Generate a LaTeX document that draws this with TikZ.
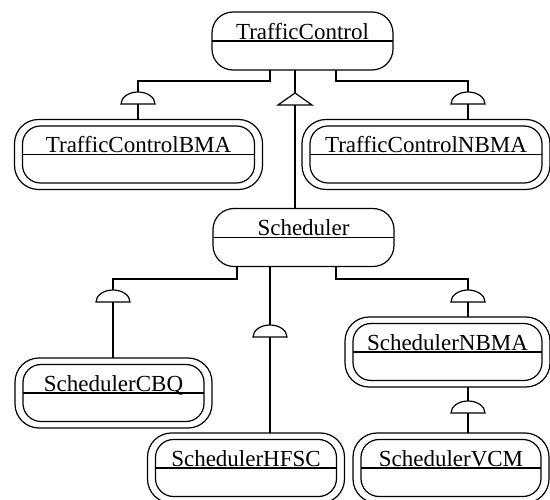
\documentclass[tikz,border=0pt]{standalone}
\usepackage{fontspec}
\setmainfont{Liberation Serif}
\usetikzlibrary{fit}
\newcommand{\mkclass}[5]{%
  \node[sbox, minimum width=#4pt] (#1) at (#2,#3) {};
  \draw (#1.west) -- (#1.east);
  \node[lbl] (#1-t) at ([yshift=1.5pt]#1.center) {#5};
}
\newcommand{\mkdclass}[5]{%
  \node[ibox, minimum width=#4pt] (#1) at (#2,#3) {};
  \node[obox, fit=(#1)] (#1-o) {};
  \draw (#1.west) -- (#1.east);
  \node[lbl] (#1-t) at ([yshift=1.5pt]#1.center) {#5};
}
\newcommand{\mkhalf}[2]{%
  \draw[fill=white] (#1-17,#2) .. controls (#1-17,#2-6.6) and (#1-9.4,#2-12) .. (#1,#2-12)
    .. controls (#1+9.4,#2-12) and (#1+17,#2-6.6) .. (#1+17,#2) -- cycle;
}
\begin{document}
\begin{tikzpicture}[x=1pt, y=-1pt, line width=1.2pt,
  sbox/.style={draw, rounded corners=21pt, minimum height=58pt, inner sep=0pt, outer sep=0pt},
  ibox/.style={draw, rounded corners=18pt, minimum height=57pt, inner sep=0pt, outer sep=0pt},
  obox/.style={draw, rounded corners=24pt, inner xsep=8pt, inner ysep=6.5pt, outer sep=0pt},
  lbl/.style={font=\fontsize{23}{27}\selectfont, anchor=base, inner sep=0pt}]
\useasboundingbox (0,0) rectangle (550,500);
\clip (0,0) rectangle (550,500);

% classes
\mkclass{tc}{302.5}{41}{181}{TrafficControl}
\mkclass{sch}{303.5}{237.5}{181}{Scheduler}
\mkdclass{bma}{138.5}{154.5}{232}{TrafficControlBMA}
\mkdclass{nb1}{426}{154.5}{232}{TrafficControlNBMA}
\mkdclass{cbq}{113.5}{393}{181}{SchedulerCBQ}
\mkdclass{snb}{447.5}{352}{189}{SchedulerNBMA}
\mkdclass{hfsc}{246}{468}{181}{SchedulerHFSC}
\mkdclass{vcm}{451}{468}{180}{SchedulerVCM}

% bend points
\coordinate (k1) at (270,81);
\coordinate (k2) at (138,81);
\coordinate (k3) at (336,81);
\coordinate (k4) at (468,81);
\coordinate (c1) at (295,105);
\coordinate (k5) at (237,279);
\coordinate (k6) at (113,279);
\coordinate (k7) at (336,279);
\coordinate (k8) at (468,279);
\coordinate (c2) at (270,337);

% connectors
\draw (tc.south -| k1) -- (k1) -- (k2) -- (k2 |- bma-o.north);
\draw (tc.south -| k3) -- (k3) -- (k4) -- (k4 |- nb1-o.north);
\draw (tc.south -| c1) -- (c1 |- sch.north);
\draw (sch.south -| k5) -- (k5) -- (k6) -- (k6 |- cbq-o.north);
\draw (sch.south -| c2) -- (c2 |- hfsc-o.north);
\draw (sch.south -| k7) -- (k7) -- (k8) -- (k8 |- snb-o.north);
\draw (snb-o.south -| k8) -- (k8 |- vcm-o.north);

% markers
\draw[fill=white] (295,93) -- (278,105) -- (312,105) -- cycle;
\mkhalf{138}{104}
\mkhalf{468}{104}
\mkhalf{113}{302}
\mkhalf{270}{337}
\mkhalf{468}{302}
\mkhalf{468}{413}
\end{tikzpicture}
\end{document}
